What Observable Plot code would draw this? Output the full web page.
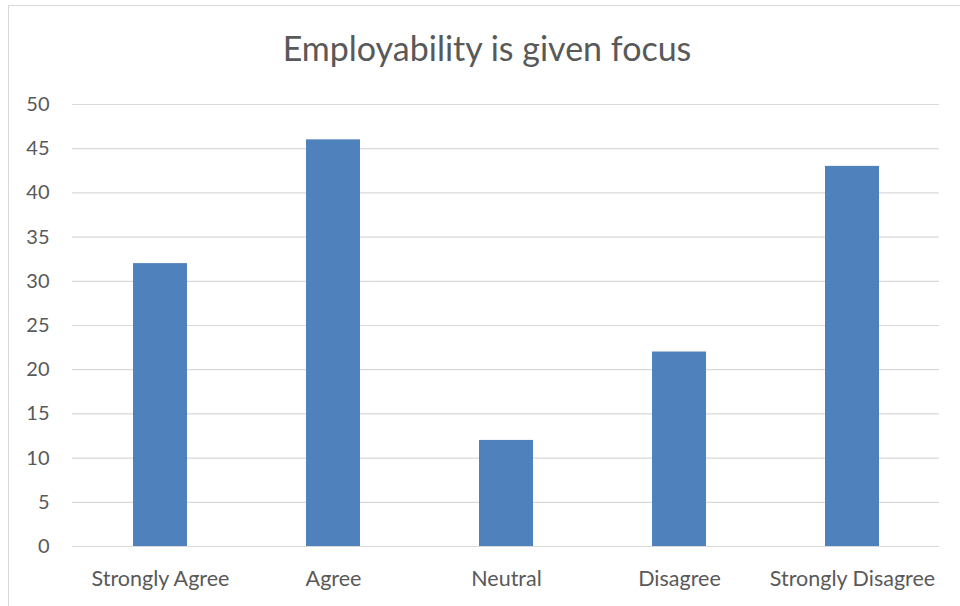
<!DOCTYPE html>
<html>
<head>
<meta charset="utf-8">
<script src="https://cdn.jsdelivr.net/npm/d3@7"></script>
<script src="https://cdn.jsdelivr.net/npm/@observablehq/plot@0.6"></script>
<style>
  html, body { margin: 0; padding: 0; background: #fff; overflow: hidden; }
  #wrap { position: relative; width: 960px; height: 606px; }
  #frame { position: absolute; left: 8px; top: 5px; width: 1000px; height: 700px;
           border-left: 1px solid #d9d9d9; border-top: 1px solid #d9d9d9; box-sizing: border-box; }
  #title { position: absolute; left: 0; width: 974px; top: 28px; text-align: center;
           font-family: Lato, sans-serif; font-size: 34px; color: #595959; line-height: 40px; }
  #chart { position: absolute; left: 0; top: 80px; }
</style>
</head>
<body>
<div id="wrap">
  <div id="frame"></div>
  <div id="title">Employability is given focus</div>
  <div id="chart"></div>
</div>
<script>
const categories = ["Strongly Agree", "Agree", "Neutral", "Disagree", "Strongly Disagree"];
const values = [32, 46, 12, 22, 43];
const yTicks = [0, 5, 10, 15, 20, 25, 30, 35, 40, 45, 50];

const data = categories.map((c, i) => ({category: c, value: values[i]}));

const plot = Plot.plot({
  width: 960,
  height: 526,
  marginTop: 24,
  marginBottom: 60,
  marginLeft: 72,
  marginRight: 21,
  style: {fontFamily: "Lato, sans-serif", fontSize: "20px", color: "#595959", background: "transparent"},
  x: {domain: categories, paddingInner: 0.69, paddingOuter: 0.345, label: null},
  y: {domain: [0, 50], ticks: yTicks, label: null},
  marks: [
    Plot.gridY(yTicks, {stroke: "#d9d9d9", strokeOpacity: 1, strokeWidth: 1.2}),
    Plot.barY(data, {x: "category", y: "value", fill: "#4f81bd"}),
    Plot.axisX({tickSize: 0, tickPadding: 24, fill: "#595959", fontSize: 21.5}),
    Plot.axisY({ticks: yTicks, tickSize: 0, tickPadding: 23, fill: "#595959", fontSize: 20})
  ]
});
document.getElementById("chart").appendChild(plot);
</script>
</body>
</html>
